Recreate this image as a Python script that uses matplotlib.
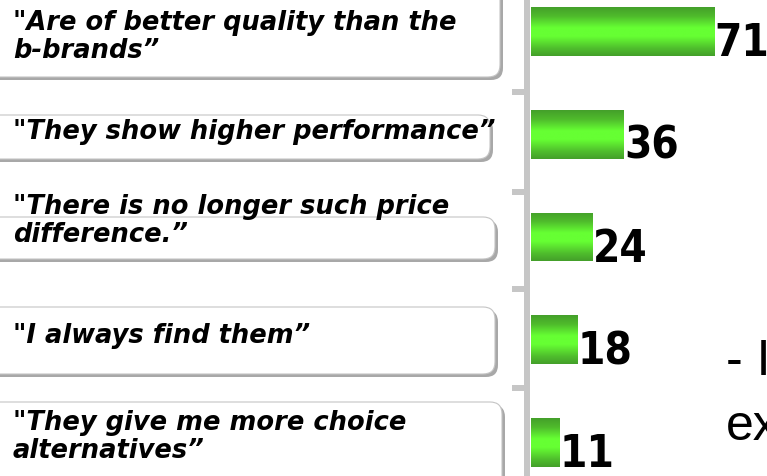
import numpy as np
import matplotlib.pyplot as plt
from matplotlib import font_manager
from matplotlib.colors import LinearSegmentedColormap
from matplotlib.patches import FancyBboxPatch

# data
reasons = ['"Are of better quality than the\nb-brands\u201d',
           '"They show higher performance\u201d',
           '"There is no longer such price\ndifference.\u201d',
           '"I always find them\u201d',
           '"They give me more choice\nalternatives\u201d']
values = [71, 36, 24, 18, 11]
side_lines = ['- I', 'ex', 'm']

# heavy narrow font for the numbers if DejaVu Sans Condensed is there
cond = [f for f in font_manager.fontManager.ttflist
        if f.name.startswith('DejaVu Sans') and 'condensed' in str(f.stretch).lower()
        or 'Condensed' in f.name]
if cond:
    num_font = dict(family='DejaVu Sans', stretch='condensed', fontsize=31.5)
else:
    num_font = dict(family='Liberation Sans', fontsize=34)

W, H = 767, 476
fig = plt.figure(figsize=(W / 100, H / 100), dpi=100)

# background axes in pixel units for the label boxes
bg = fig.add_axes([0, 0, 1, 1])
bg.set_xlim(0, W)
bg.set_ylim(H, 0)
bg.axis('off')

# box layout: left, top, right, bottom (pixels, shadow included)
boxes = [(-20, -20, 503, 80), (-20, 115, 493, 162), (-20, 217, 498, 262),
         (-20, 307, 498, 377), (-20, 402, 505, 492)]
text_y = [37, 132, 221, 336, 437]
for (l, t, r, b), ty, lab in zip(boxes, text_y, reasons):
    w, h = r - l - 3, b - t - 3
    shadow = FancyBboxPatch((l + 3, t + 3), w, h, boxstyle='round,pad=0,rounding_size=12',
                            fc='#a8a8a8', ec='none')
    box = FancyBboxPatch((l, t), w, h, boxstyle='round,pad=0,rounding_size=12',
                         fc='white', ec='#c4c4c4', lw=0.8)
    bg.add_patch(shadow)
    bg.add_patch(box)
    bg.text(13, ty, lab, fontsize=18.5, fontweight='bold', fontstyle='italic',
            family='DejaVu Sans', va='center', ha='left', linespacing=1.08)

# cut-off text on the right
for s, base in zip(side_lines, [375, 440, 505]):
    bg.text(726, base, s, fontsize=36, family='Liberation Sans', va='baseline', ha='left')

# bar chart
x0 = 531
ax = fig.add_axes([x0 / W, 0, 1 - x0 / W, 1])
ax.patch.set_alpha(0)
px_unit = 2.58
step, first = 102.75, 31.5

cmap = LinearSegmentedColormap.from_list('g', [(0, '#44a02a'), (0.18, '#4fba2c'), (0.42, '#66ff33'),
                                               (0.6, '#66ff33'), (0.85, '#4fbd2d'), (1, '#44a02a')])
grad = np.linspace(0, 1, 100).reshape(-1, 1)
bars = ax.barh(range(len(values)), values, height=49 / step, color='none')
for bar, v in zip(bars, values):
    bx, by, bw, bh = bar.get_x(), bar.get_y(), bar.get_width(), bar.get_height()
    im = ax.imshow(grad, cmap=cmap, aspect='auto', extent=(bx, bx + bw, by + bh, by), zorder=2)
    im.set_clip_path(bar)
    ax.text(bx + bw, by + bh, str(v), fontweight='bold', ha='left', va='baseline',
            zorder=3, **num_font)

ax.set_xlim(0, (W - x0) / px_unit)
ax.set_ylim((H - first) / step, -first / step)

for sp in ['top', 'right', 'bottom']:
    ax.spines[sp].set_visible(False)
ax.spines['left'].set_position(('outward', 2.9))
ax.spines['left'].set_linewidth(4.3)
ax.spines['left'].set_color('#c6c6c6')
ax.set_xticks([])
ax.set_yticks([0.59, 1.56, 2.51, 3.47])
ax.tick_params(axis='y', length=10.8, width=4.3, color='#c6c6c6', labelleft=False)

fig.savefig('out.png', dpi=100)
